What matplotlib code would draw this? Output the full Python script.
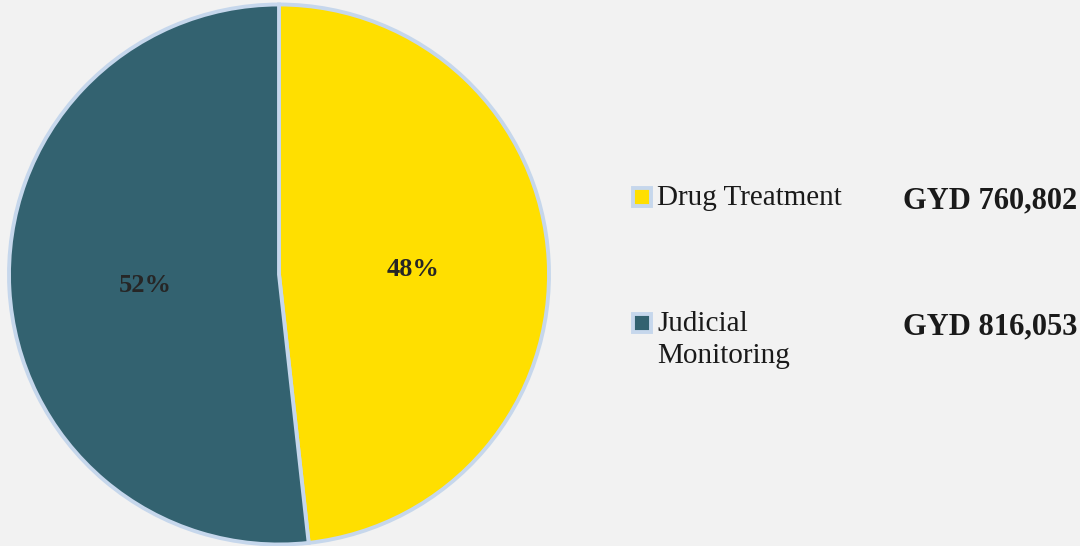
import matplotlib.pyplot as plt
from matplotlib.patches import Rectangle

plt.rcParams['font.family'] = ['Liberation Serif', 'DejaVu Serif']

# budget split
labels = ['Drug Treatment', 'Judicial\nMonitoring']
values = [760802, 816053]
value_text = ['GYD 760,802', 'GYD 816,053']
colors = ['#FFDF00', '#336270']
edge = '#C6D7EC'
bg = '#F2F2F2'

fig = plt.figure(figsize=(10.8, 5.46), dpi=100, facecolor=bg)
W, H = 1080, 546

# pie axes placed in pixel terms
cx, cy, r = 279, 274.5, 270
ax = fig.add_axes([(cx - r) / W, (H - cy - r) / H, 2 * r / W, 2 * r / H])
ax.set_facecolor(bg)
wedges, texts = ax.pie(values, colors=colors, startangle=90, counterclock=False,
                       radius=1.0,
                       wedgeprops=dict(edgecolor=edge, linewidth=2.8))
ax.set_xlim(-1.0, 1.0)
ax.set_ylim(-1.0, 1.0)
ax.set_aspect('equal')
ax.axis('off')

total = sum(values)
pct_pos = [(413, 270), (145, 285)]
for v, (px, py) in zip(values, pct_pos):
    fig.text(px / W, 1 - py / H, f'{round(100 * v / total)}%', ha='center', va='center',
             fontsize=19, fontweight='bold', color='#262626')

# legend drawn by hand
leg_y = [198, 324]
for lab, val, col, y in zip(labels, value_text, colors, leg_y):
    fig.patches.append(Rectangle((633 / W, 1 - (y + 8) / H), 18 / W, 18 / H,
                                 transform=fig.transFigure, facecolor=col,
                                 edgecolor=edge, linewidth=2.8))
    for i, line in enumerate(lab.split('\n')):
        fig.text(657 / W, 1 - (y + i * 32) / H, line, ha='left', va='center',
                 fontsize=21, color='#1a1a1a')
    fig.text(1077 / W, 1 - (y + 3) / H, val, ha='right', va='center',
             fontsize=22, fontweight='bold', color='#1a1a1a')

fig.savefig('out.png', dpi=100, facecolor=bg)
